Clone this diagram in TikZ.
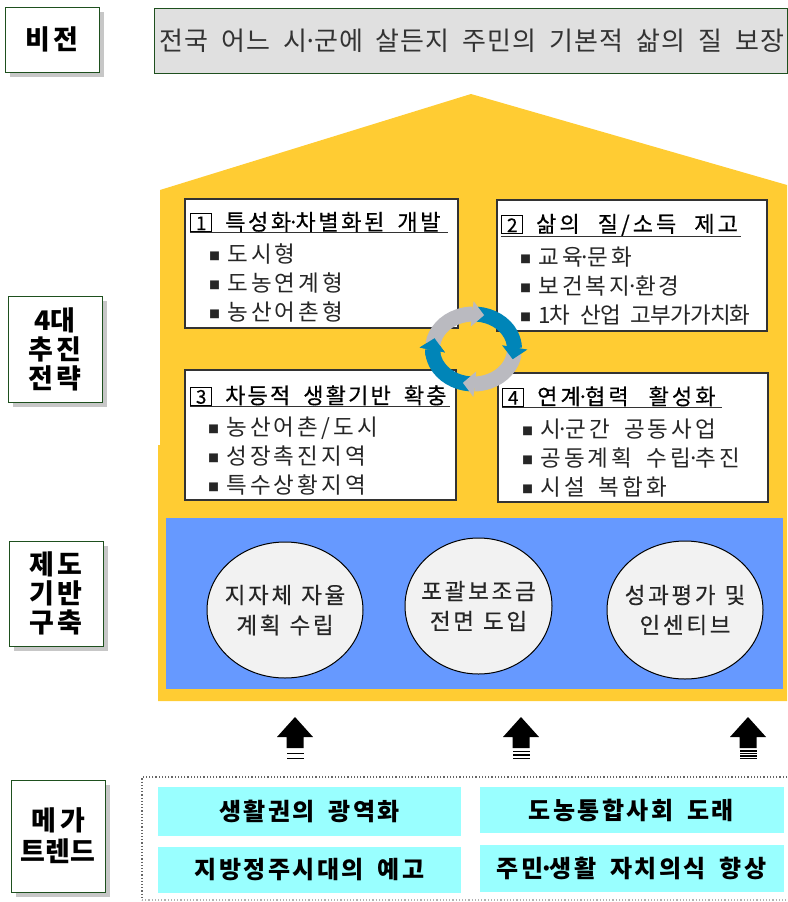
\documentclass[tikz,border=0pt]{standalone}
\usepackage{fontspec}
\setmainfont{Noto Sans CJK KR}
\usetikzlibrary{shapes.geometric, arrows.meta, bending, shadows}
\definecolor{colorHouse}{RGB}{255, 204, 51}
\definecolor{colorBase}{RGB}{102, 153, 255}
\definecolor{colorTrend}{RGB}{153, 255, 255}
\definecolor{colorFrame}{RGB}{30, 80, 30}
\definecolor{colorRingBlue}{RGB}{0, 133, 184}
\definecolor{colorRingGray}{RGB}{186, 186, 192}
\newcommand{\fsp}[2]{\addfontfeatures{LetterSpace=#1}\spaceskip=#2pt\relax}
\newcommand{\fbd}[2]{\addfontfeatures{LetterSpace=#1,FakeBold=0.4}\spaceskip=#2pt\relax}
\newcommand{\dotm}{\hspace{-4pt}·\hspace{-4pt}}
\newcommand{\numbox}[2]{\setlength{\fboxsep}{0pt}\setlength{\fboxrule}{1pt}\fbox{\makebox[20pt]{\rule[-1pt]{0pt}{17pt}\fontsize{19}{19}\selectfont #1}}\hspace{13pt}\spaceskip=#2pt\relax}
\newcommand{\bul}{\raisebox{2pt}{\fontsize{11}{11}\selectfont ■}\hspace{7pt}}
\tikzstyle{label} = [rectangle, draw=colorFrame, line width=1pt, fill=white, inner sep=0pt, align=center, font=\fontsize{27}{29}\selectfont\bfseries\fsp{15}{10}, drop shadow={shadow xshift=5pt, shadow yshift=-5pt, fill=black!22, opacity=1}]
\tikzstyle{strategy} = [rectangle, draw=black!80, line width=1.3pt, fill=white, inner sep=0pt]
\tikzstyle{title} = [inner sep=0pt, anchor=west, minimum height=21pt, align=left]
\tikzstyle{items} = [inner sep=0pt, anchor=west, align=left, font=\fontsize{22.5}{29}\selectfont\fsp{14}{14}, text=black!85]
\tikzstyle{policy} = [ellipse, draw=black, line width=1pt, fill=black!5, inner sep=0pt]
\tikzstyle{policyText} = [inner sep=0pt, font=\fontsize{22.5}{30}\selectfont\fbd{12}{9}, text=black!85]
\tikzstyle{trend} = [rectangle, fill=colorTrend, inner sep=0pt, font=\fontsize{24}{28}\selectfont\bfseries\fsp{10}{14}]
\tikzstyle{rule} = [line width=1.2pt, black!80]
\begin{document}
\begin{tikzpicture}[x=1pt, y=-1pt]

	\useasboundingbox (0,0) rectangle (787,902);

	% house
	\fill[colorHouse] (160,190) -- (471,94) -- (787,185) -- (787,701) -- (158,701) -- (158,445) -- (160,445) -- cycle;
	\node (bgBase)[fill=colorBase, inner sep=0pt, minimum width=617pt, minimum height=171pt] at (474.5,603.5) {};

	% left labels
	\node (lVision)[label, minimum width=94pt, minimum height=65pt] at (52,39.5) {비전};
	\node (lStrategy)[label, minimum width=94pt, minimum height=106pt] at (55,349) {{\fsp{0}{10}4대}\\추진\\전략};
	\node (lBase)[label, minimum width=94pt, minimum height=105pt] at (56,593.5) {제도\\기반\\구축};
	\node (lTrend)[label, minimum width=94pt, minimum height=112pt, font=\fontsize{27}{31}\selectfont\bfseries\fsp{15}{10}] at (58,836) {메가\\{\fsp{0}{10}트렌드}};

	% vision
	\node (pVision)[rectangle, draw=colorFrame, line width=1pt, fill=black!12, inner sep=0pt, minimum width=633pt, minimum height=65pt, text=black!80, font=\fontsize{26}{30}\selectfont\fsp{4}{13}] at (470.5,40.5) {\hspace{3pt}전국 어느 시\dotm 군에 살든지 주민의 기본적 삶의 질 보장};

	% strategies
	\node (sSpecial)[strategy, minimum width=273pt, minimum height=129pt] at (321.5,263.5) {};
	\node (sQuality)[strategy, minimum width=270pt, minimum height=131pt] at (632,265.5) {};
	\node (sInfra)[strategy, minimum width=271pt, minimum height=130pt] at (320.5,435) {};
	\node (sLink)[strategy, minimum width=270pt, minimum height=129pt] at (633,437.5) {};

	\node (tSpecial)[title, text width=258pt, font=\fontsize{22}{24}\selectfont\fbd{12}{13}] at (190,222) {\numbox{1}{13}특성화\dotm 차별화된 개발};
	\node (tQuality)[title, text width=240pt, font=\fontsize{22}{24}\selectfont\fbd{14}{18}] at (501,225) {\numbox{2}{18}삶의 질/소득 제고};
	\node (tInfra)[title, text width=260pt, font=\fontsize{22}{24}\selectfont\fbd{10}{13}] at (190,395.5) {\numbox{3}{13}차등적 생활기반 확충};
	\node (tLink)[title, text width=220pt, font=\fontsize{22}{24}\selectfont\fbd{14}{20}] at (502,396.5) {\numbox{4}{20}연계\dotm 협력 활성화};

	\draw[rule] (tSpecial.south west) -- (tSpecial.south east);
	\draw[rule] (tQuality.south west) -- (tQuality.south east);
	\draw[rule] (tInfra.south west) -- (tInfra.south east);
	\draw[rule] (tLink.south west) -- (tLink.south east);

	\node (iSpecial)[items] at (209,282.5) {\bul 도시형\\\bul 도농연계형\\\bul 농산어촌형};
	\node (iQuality)[items] at (520,286) {\bul 교육\dotm 문화\\\bul 보건복지\dotm 환경\\\bul {\fsp{-4}{10}1차 산업 고부가가치화}};
	\node (iInfra)[items] at (208,456) {\bul 농산어촌/도시\\\bul 성장촉진지역\\\bul 특수상황지역};
	\node (iLink)[items] at (522,458.5) {\bul 시\dotm 군간 공동사업\\\bul 공동계획 수립\dotm 추진\\\bul 시설 복합화};

	% ring
	\coordinate (ring) at (473.5,349);
	\foreach \ringFrom/\ringTo/\ringColor in {265/162/colorRingBlue, 353/255/colorRingGray, 85/-17/colorRingBlue, 172/75/colorRingGray, 190/162/colorRingBlue}
	{
		\draw[\ringColor, line width=15pt, -{Triangle[width=25pt, length=12pt, flex=0.9]}] ([shift={(\ringFrom:41pt and 35pt)}]ring) arc[start angle=\ringFrom, end angle=\ringTo, x radius=41pt, y radius=35pt];
	}

	% policies
	\node (cPlan)[policy, minimum width=156pt, minimum height=136pt] at (285,610) {};
	\node (cGrant)[policy, minimum width=147pt, minimum height=136pt] at (478.5,606) {};
	\node (cEval)[policy, minimum width=156pt, minimum height=138pt] at (685,610) {};
	\node (pPlanA)[policyText, yshift=15pt] at (cPlan) {지자체 자율};
	\node (pPlanB)[policyText, yshift=-15pt] at (cPlan) {계획 수립};
	\node (pGrantA)[policyText, yshift=15pt] at (cGrant) {포괄보조금};
	\node (pGrantB)[policyText, yshift=-15pt] at (cGrant) {전면 도입};
	\node (pEvalA)[policyText, yshift=15pt] at (cEval) {성과평가 및};
	\node (pEvalB)[policyText, yshift=-15pt] at (cEval) {인센티브};

	% up arrows
	\foreach \upX/\upLines in {295/2, 521/3, 748/4}
	{
		\fill (\upX,717) -- (\upX+18,737) -- (\upX+8.5,737) -- (\upX+8.5,748) -- (\upX-8.5,748) -- (\upX-8.5,737) -- (\upX-18,737) -- cycle;
		\foreach \upN in {1,...,\upLines}
			\fill (\upX-8.5,{759-(\upN-1)*10/\upLines-1.5}) rectangle (\upX+8.5,{759-(\upN-1)*10/\upLines});
	}

	% trends
	\draw[dotted, line width=1.2pt, black!60] (787,777) -- (142,777) -- (142,900);
	\draw[dotted, line width=1.2pt, black!30] (142,900) -- (787,900);
	\node (tRegion)[trend, minimum width=303pt, minimum height=49pt] at (309.5,811.5) {생활권의 광역화};
	\node (tRural)[trend, minimum width=304pt, minimum height=46pt] at (631.5,810) {도농통합사회 도래};
	\node (tLocal)[trend, minimum width=303pt, minimum height=46pt] at (309.5,870) {지방정주시대의 예고};
	\node (tCitizen)[trend, minimum width=304pt, minimum height=47pt] at (631.5,868.5) {주민\dotm 생활 자치의식 향상};

\end{tikzpicture}
\end{document}
